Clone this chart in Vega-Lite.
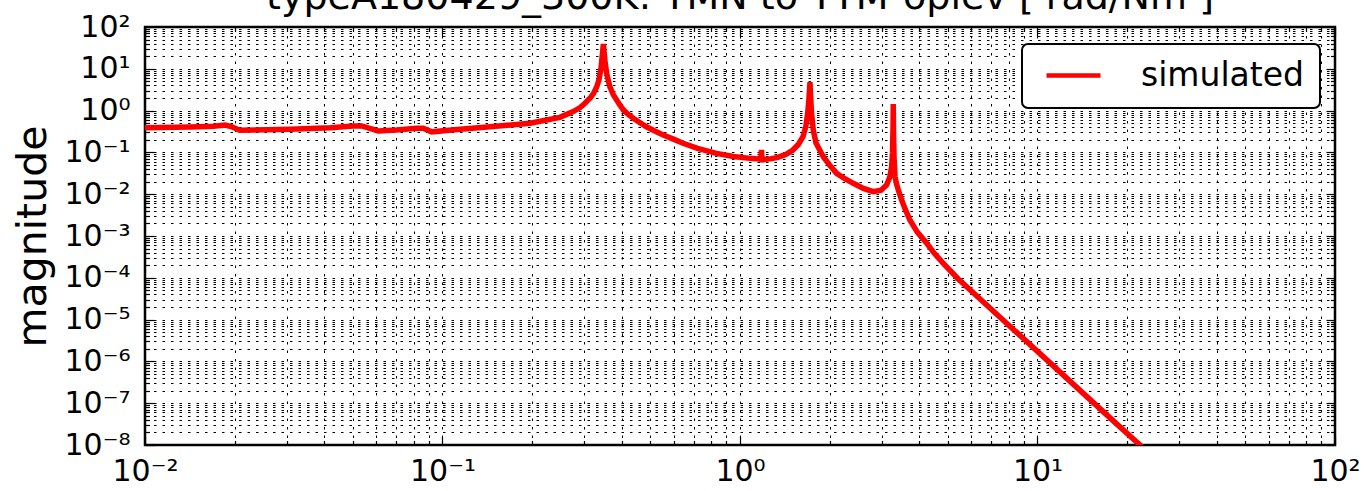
{
  "$schema": "https://vega.github.io/schema/vega-lite/v6.json",
  "width": 1190,
  "height": 418,
  "autosize": "none",
  "padding": {"left": 145, "top": 27, "right": 34, "bottom": 46},
  "background": "white",
  "title": {
    "text": "typeA180429_300K: TMN to TTM-oplev [ rad/Nm ]",
    "fontSize": 38,
    "font": "DejaVu Sans",
    "fontWeight": "normal",
    "color": "black",
    "anchor": "middle",
    "frame": "group",
    "baseline": "alphabetic",
    "offset": 0,
    "dy": 35
  },
  "config": {
    "view": {"stroke": "black", "strokeWidth": 2.5},
    "axis": {
      "domain": false,
      "labelFont": "DejaVu Sans",
      "labelFontSize": 30,
      "labelColor": "black",
      "labelOverlap": false,
      "labelFlush": false,
      "labelBound": false,
      "tickColor": "black",
      "tickWidth": 1.2,
      "gridColor": "black",
      "gridDash": [2.5, 6],
      "gridWidth": 1,
      "gridOpacity": 1,
      "titleFont": "DejaVu Sans",
      "titleFontWeight": "normal",
      "titleColor": "black"
    },
    "legend": {
      "strokeColor": "black",
      "strokeWidth": 2,
      "fillColor": "white",
      "cornerRadius": 6,
      "padding": 15
    }
  },
  "datasets": {
    "tf": [
      {"f": 0.0100, "mag": 0.39},
      {"f": 0.0142, "mag": 0.405},
      {"f": 0.0170, "mag": 0.42},
      {"f": 0.0186, "mag": 0.45},
      {"f": 0.0196, "mag": 0.41},
      {"f": 0.0208, "mag": 0.338},
      {"f": 0.0307, "mag": 0.357},
      {"f": 0.0420, "mag": 0.39},
      {"f": 0.0501, "mag": 0.43},
      {"f": 0.0535, "mag": 0.43},
      {"f": 0.0585, "mag": 0.357},
      {"f": 0.0608, "mag": 0.325},
      {"f": 0.0700, "mag": 0.345},
      {"f": 0.0818, "mag": 0.38},
      {"f": 0.0861, "mag": 0.38},
      {"f": 0.0920, "mag": 0.31},
      {"f": 0.1146, "mag": 0.357},
      {"f": 0.1445, "mag": 0.41},
      {"f": 0.197, "mag": 0.50},
      {"f": 0.248, "mag": 0.69},
      {"f": 0.275, "mag": 0.95},
      {"f": 0.290, "mag": 1.18},
      {"f": 0.300, "mag": 1.46},
      {"f": 0.313, "mag": 1.97},
      {"f": 0.322, "mag": 2.6},
      {"f": 0.330, "mag": 3.73},
      {"f": 0.336, "mag": 5.6},
      {"f": 0.341, "mag": 10.3},
      {"f": 0.345, "mag": 24},
      {"f": 0.3473, "mag": 39},
      {"f": 0.3495, "mag": 25},
      {"f": 0.352, "mag": 14},
      {"f": 0.357, "mag": 7.2},
      {"f": 0.365, "mag": 3.8},
      {"f": 0.375, "mag": 2.4},
      {"f": 0.385, "mag": 1.80},
      {"f": 0.395, "mag": 1.35},
      {"f": 0.406, "mag": 1.03},
      {"f": 0.420, "mag": 0.82},
      {"f": 0.438, "mag": 0.655},
      {"f": 0.460, "mag": 0.52},
      {"f": 0.485, "mag": 0.41},
      {"f": 0.515, "mag": 0.33},
      {"f": 0.552, "mag": 0.261},
      {"f": 0.600, "mag": 0.205},
      {"f": 0.644, "mag": 0.165},
      {"f": 0.720, "mag": 0.125},
      {"f": 0.834, "mag": 0.095},
      {"f": 0.950, "mag": 0.080},
      {"f": 1.081, "mag": 0.072},
      {"f": 1.175, "mag": 0.069},
      {"f": 1.181, "mag": 0.115},
      {"f": 1.186, "mag": 0.058},
      {"f": 1.19, "mag": 0.068},
      {"f": 1.26, "mag": 0.070},
      {"f": 1.33, "mag": 0.075},
      {"f": 1.42, "mag": 0.088},
      {"f": 1.506, "mag": 0.114},
      {"f": 1.57, "mag": 0.155},
      {"f": 1.628, "mag": 0.238},
      {"f": 1.665, "mag": 0.42},
      {"f": 1.689, "mag": 0.877},
      {"f": 1.702, "mag": 1.6},
      {"f": 1.712, "mag": 3.0},
      {"f": 1.719, "mag": 4.8},
      {"f": 1.726, "mag": 2.4},
      {"f": 1.740, "mag": 0.85},
      {"f": 1.763, "mag": 0.343},
      {"f": 1.80, "mag": 0.17},
      {"f": 1.905, "mag": 0.079},
      {"f": 2.0, "mag": 0.050},
      {"f": 2.113, "mag": 0.0316},
      {"f": 2.25, "mag": 0.0235},
      {"f": 2.403, "mag": 0.0182},
      {"f": 2.6, "mag": 0.0138},
      {"f": 2.806, "mag": 0.0115},
      {"f": 2.98, "mag": 0.0125},
      {"f": 3.111, "mag": 0.0166},
      {"f": 3.19, "mag": 0.026},
      {"f": 3.234, "mag": 0.0455},
      {"f": 3.255, "mag": 0.1},
      {"f": 3.268, "mag": 0.35},
      {"f": 3.275, "mag": 1.44},
      {"f": 3.282, "mag": 0.3},
      {"f": 3.295, "mag": 0.075},
      {"f": 3.320, "mag": 0.0262},
      {"f": 3.36, "mag": 0.0175},
      {"f": 3.405, "mag": 0.0126},
      {"f": 3.494, "mag": 0.00727},
      {"f": 3.6, "mag": 0.0042},
      {"f": 3.724, "mag": 0.00241},
      {"f": 3.95, "mag": 0.00122},
      {"f": 4.244, "mag": 0.000669},
      {"f": 4.5, "mag": 0.000385},
      {"f": 4.823, "mag": 0.000222},
      {"f": 5.415, "mag": 0.0000936},
      {"f": 6.578, "mag": 0.0000265},
      {"f": 8.51, "mag": 0.00000494},
      {"f": 11.0, "mag": 0.000000935},
      {"f": 14.25, "mag": 0.000000172},
      {"f": 18.45, "mag": 0.000000032},
      {"f": 22.1, "mag": 0.00000001},
      {"f": 24.0, "mag": 0.0000000058}
    ]
  },
  "data": {"name": "tf"},
  "layer": [
    {
      "mark": {"type": "line", "strokeWidth": 5.5, "clip": true},
      "encoding": {
        "x": {
          "field": "f",
          "type": "quantitative",
          "scale": {"type": "log", "domain": [0.01, 100], "nice": false},
          "axis": {
            "orient": "bottom",
            "title": null,
            "values": [0.01,0.02,0.03,0.04,0.05,0.06,0.07,0.08,0.09,0.1,0.2,0.3,0.4,0.5,0.6,0.7,0.8,0.9,1,2,3,4,5,6,7,8,9,10,20,30,40,50,60,70,80,90,100],
            "labelExpr": "abs(log(datum.value)/LN10 - round(log(datum.value)/LN10)) < 0.01 ? '10' + (round(log(datum.value)/LN10) < 0 ? '⁻' : '') + ['⁰','¹','²','³','⁴','⁵','⁶','⁷','⁸','⁹'][abs(round(log(datum.value)/LN10))] : ''",
            "grid": true,
            "tickSize": {"condition": {"test": "abs(log(datum.value)/LN10 - round(log(datum.value)/LN10)) < 0.01", "value": -9}, "value": -4.5},
            "labelPadding": 20
          }
        },
        "y": {
          "field": "mag",
          "type": "quantitative",
          "scale": {"type": "log", "domain": [1e-8, 100], "nice": false},
          "axis": {
            "orient": "left",
            "title": "magnitude",
            "titleFontSize": 41,
            "titleX": -112,
            "titleY": 209,
            "titleAngle": -90,
            "titleAlign": "center",
            "titleBaseline": "middle",
            "values": [1e-8,2e-8,3e-8,4e-8,5e-8,6e-8,7e-8,8e-8,9e-8,1e-7,2e-7,3e-7,4e-7,5e-7,6e-7,7e-7,8e-7,9e-7,1e-6,2e-6,3e-6,4e-6,5e-6,6e-6,7e-6,8e-6,9e-6,1e-5,2e-5,3e-5,4e-5,5e-5,6e-5,7e-5,8e-5,9e-5,1e-4,2e-4,3e-4,4e-4,5e-4,6e-4,7e-4,8e-4,9e-4,0.001,0.002,0.003,0.004,0.005,0.006,0.007,0.008,0.009,0.01,0.02,0.03,0.04,0.05,0.06,0.07,0.08,0.09,0.1,0.2,0.3,0.4,0.5,0.6,0.7,0.8,0.9,1,2,3,4,5,6,7,8,9,10,20,30,40,50,60,70,80,90,100],
            "labelExpr": "abs(log(datum.value)/LN10 - round(log(datum.value)/LN10)) < 0.01 ? '10' + (round(log(datum.value)/LN10) < 0 ? '⁻' : '') + ['⁰','¹','²','³','⁴','⁵','⁶','⁷','⁸','⁹'][abs(round(log(datum.value)/LN10))] : ''",
            "grid": true,
            "tickSize": {"condition": {"test": "abs(log(datum.value)/LN10 - round(log(datum.value)/LN10)) < 0.01", "value": -9}, "value": -4.5},
            "labelPadding": 24
          }
        },
        "color": {
          "datum": "simulated",
          "type": "nominal",
          "scale": {"range": ["#ff0000"]},
          "legend": {
            "title": null,
            "orient": "none",
            "legendX": 877,
            "legendY": 17,
            "symbolType": "M-2,0H2",
            "symbolSize": 729,
            "symbolStrokeWidth": 4.5,
            "symbolOffset": 20,
            "labelFont": "DejaVu Sans",
            "labelFontSize": 33,
            "labelColor": "black",
            "labelOffset": 51,
            "labelLimit": 500
          }
        }
      }
    },
    {
      "mark": {"type": "line", "opacity": 0, "clip": true},
      "encoding": {
        "x": {
          "field": "f",
          "type": "quantitative",
          "axis": {
            "orient": "top",
            "title": null,
            "labels": false,
            "grid": false,
            "values": [0.01,0.02,0.03,0.04,0.05,0.06,0.07,0.08,0.09,0.1,0.2,0.3,0.4,0.5,0.6,0.7,0.8,0.9,1,2,3,4,5,6,7,8,9,10,20,30,40,50,60,70,80,90,100],
            "tickSize": {"condition": {"test": "abs(log(datum.value)/LN10 - round(log(datum.value)/LN10)) < 0.01", "value": -9}, "value": -4.5}
          }
        },
        "y": {
          "field": "mag",
          "type": "quantitative",
          "axis": {
            "orient": "right",
            "title": null,
            "labels": false,
            "grid": false,
            "values": [1e-8,2e-8,3e-8,4e-8,5e-8,6e-8,7e-8,8e-8,9e-8,1e-7,2e-7,3e-7,4e-7,5e-7,6e-7,7e-7,8e-7,9e-7,1e-6,2e-6,3e-6,4e-6,5e-6,6e-6,7e-6,8e-6,9e-6,1e-5,2e-5,3e-5,4e-5,5e-5,6e-5,7e-5,8e-5,9e-5,1e-4,2e-4,3e-4,4e-4,5e-4,6e-4,7e-4,8e-4,9e-4,0.001,0.002,0.003,0.004,0.005,0.006,0.007,0.008,0.009,0.01,0.02,0.03,0.04,0.05,0.06,0.07,0.08,0.09,0.1,0.2,0.3,0.4,0.5,0.6,0.7,0.8,0.9,1,2,3,4,5,6,7,8,9,10,20,30,40,50,60,70,80,90,100],
            "tickSize": {"condition": {"test": "abs(log(datum.value)/LN10 - round(log(datum.value)/LN10)) < 0.01", "value": -9}, "value": -4.5}
          }
        }
      }
    }
  ],
  "resolve": {"axis": {"x": "independent", "y": "independent"}}
}
